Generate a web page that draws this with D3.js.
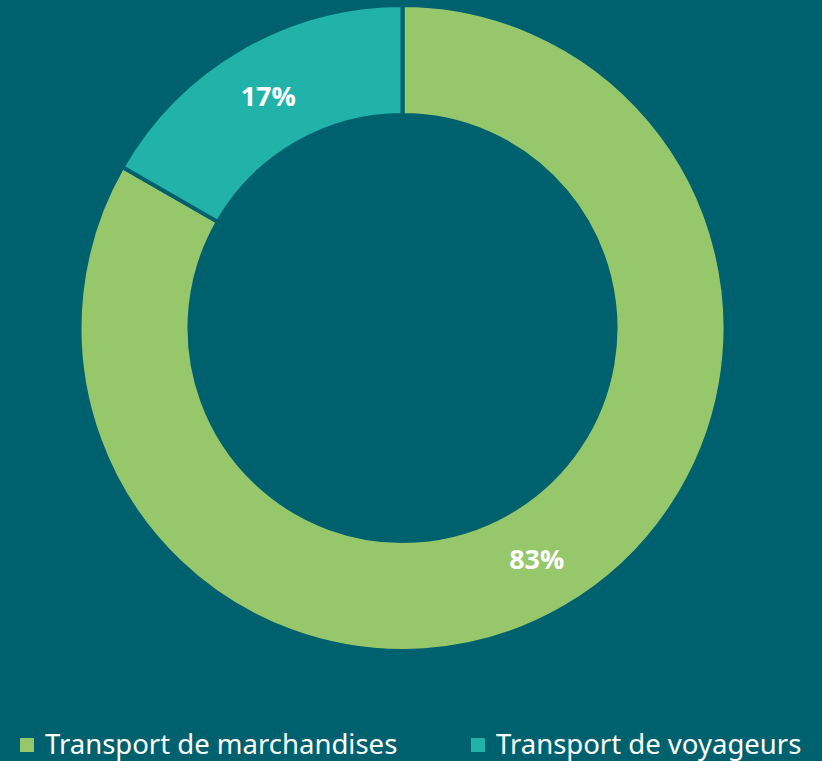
<!DOCTYPE html>
<html>
<head>
<meta charset="utf-8">
<script src="https://cdn.jsdelivr.net/npm/d3@7"></script>
<style>
html, body { margin: 0; padding: 0; background: #00616e; }
svg { display: block; }
</style>
</head>
<body>
<div id="chart"></div>
<script>
// data
var categories = ["Transport de marchandises", "Transport de voyageurs"];
var values = [83.3, 16.7];
var labels = ["83%", "17%"];
var colors = ["#97c76b", "#21b3a9"];

var totalW = 822, totalH = 761;
var cx = 402.5, cy = 328;
var outerR = 323, innerR = 213;
var bg = "#00616e";

var svg = d3.select("#chart").append("svg")
	.attr("width", totalW)
	.attr("height", totalH)
	.style("background", bg);

var pie = d3.pie().sort(null).value(function(d){ return d; });
var arc = d3.arc().innerRadius(innerR).outerRadius(outerR);
var labelArc = d3.arc().innerRadius((innerR+outerR)/2).outerRadius((innerR+outerR)/2);

var g = svg.append("g").attr("transform", "translate(" + cx + "," + cy + ")");
var arcs = pie(values);

g.selectAll("path.slice")
	.data(arcs)
	.enter().append("path")
	.attr("class", "slice")
	.attr("d", arc)
	.attr("fill", function(d,i){ return colors[i]; })
	.attr("stroke", bg)
	.attr("stroke-width", 4);

g.selectAll("text.lbl")
	.data(arcs)
	.enter().append("text")
	.attr("class", "lbl")
	.attr("x", function(d){ return labelArc.centroid(d)[0]; })
	.attr("y", function(d){ return labelArc.centroid(d)[1]; })
	.attr("dy", "0.35em")
	.attr("text-anchor", "middle")
	.attr("fill", "#ffffff")
	.style("font-family", "'Open Sans', 'Noto Sans', sans-serif")
	.style("font-weight", "bold")
	.style("font-size", "27px")
	.text(function(d,i){ return labels[i]; });

// legend
var legX = [20, 471];
var leg = svg.selectAll("g.leg")
	.data(categories)
	.enter().append("g")
	.attr("class", "leg")
	.attr("transform", function(d,i){ return "translate(" + legX[i] + ",738)"; });
leg.append("rect")
	.attr("width", 14)
	.attr("height", 14)
	.attr("fill", function(d,i){ return colors[i]; });
leg.append("text")
	.attr("x", 25)
	.attr("y", 16)
	.attr("fill", "#ffffff")
	.style("font-family", "'Noto Sans', sans-serif")
	.style("font-size", "27.5px")
	.text(function(d){ return d; });
</script>
</body>
</html>
